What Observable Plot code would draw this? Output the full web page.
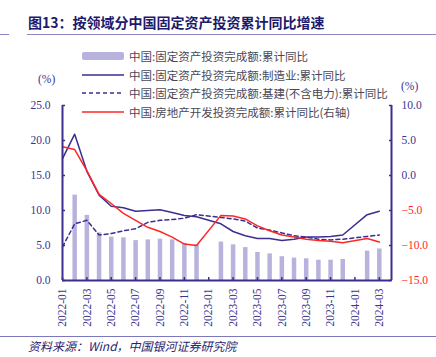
<!DOCTYPE html>
<html><head><meta charset="utf-8">
<script src="https://cdn.jsdelivr.net/npm/d3@7"></script>
<script src="https://cdn.jsdelivr.net/npm/@observablehq/plot@0.6"></script>
<style>
body{margin:0;width:436px;height:357px;position:relative;overflow:hidden;background:#fff;}
#chart{position:absolute;left:0;top:0;}
.abs{position:absolute;white-space:nowrap;}
#title{left:28px;top:12px;font:bold 14px "Noto Sans CJK SC";color:#1e1a6c;line-height:20px;}
.hline{position:absolute;height:1px;background:#8c87c4;}
#footer{left:28px;top:338px;font:italic 12px "Noto Sans CJK SC";color:#2a2670;line-height:16px;}
.unit{font:11.5px "Liberation Serif";color:#3b3490;}
.leg{position:absolute;left:82px;height:16px;width:360px;}
.leg .sw{position:absolute;left:0;top:0;width:42px;height:16px;}
.leg .tx{position:absolute;left:47px;top:0;font:11.5px "Noto Sans CJK SC";color:#4a4858;line-height:16px;white-space:nowrap;}
</style></head>
<body>
<div id="chart"></div>
<div class="abs" id="title">图13：按领域分中国固定资产投资累计同比增速</div>
<div class="hline" style="left:0;top:34px;width:9px;"></div>
<div class="hline" style="left:27px;top:34px;width:409px;"></div>
<div class="abs unit" style="left:38px;top:73px;">(%)</div>
<div class="abs unit" style="left:401px;top:80px;">(%)</div>
<div id="legend"></div>
<div class="hline" style="left:0;top:336px;width:436px;background:#7c78bc;"></div>
<div class="abs" id="footer">资料来源：Wind，中国银河证券研究院</div>
<script>
const months = ["2022-01","2022-02","2022-03","2022-04","2022-05","2022-06","2022-07","2022-08","2022-09","2022-10","2022-11","2022-12",
"2023-01","2023-02","2023-03","2023-04","2023-05","2023-06","2023-07","2023-08","2023-09","2023-10","2023-11","2023-12",
"2024-01","2024-02","2024-03"];
const fai        = [null,12.2,9.3,6.8,6.2,6.1,5.7,5.8,5.9,5.8,5.3,5.1, null,5.5,5.1,4.7,4.0,3.8,3.4,3.2,3.1,2.9,2.9,3.0, null,4.2,4.5];
const mfg        = [17.4,20.9,15.6,12.2,10.6,10.4,9.9,10.0,10.1,9.7,9.3,9.1, null,8.1,7.0,6.4,6.0,6.0,5.7,5.9,6.2,6.2,6.3,6.5, null,9.4,9.9];
const infra      = [4.8,8.1,8.6,6.5,6.7,7.1,7.4,8.3,8.6,8.7,8.9,9.4, null,9.0,8.8,8.5,7.5,7.2,6.8,6.4,6.2,5.9,5.8,5.9, null,6.3,6.5];
const realEstate = [4.1,3.7,0.7,-2.7,-4.0,-5.4,-6.4,-7.4,-8.0,-8.8,-9.8,-10.0, null,-5.7,-5.8,-6.2,-7.2,-7.9,-8.5,-8.8,-9.1,-9.3,-9.4,-9.6, null,-9.0,-9.5];
const leftTicks  = [0,5,10,15,20,25];
const rightTicks = [-15,-10,-5,0,5,10];
const seriesNames = ["中国:固定资产投资完成额:累计同比","中国:固定资产投资完成额:制造业:累计同比","中国:固定资产投资完成额:基建(不含电力):累计同比","中国:房地产开发投资完成额:累计同比(右轴)"];

const NAVY = "#3a2f8e", BAR = "#b8b3dc", RED = "#ff2626", TXT = "#3b3490";
const rows = months.map((m,i)=>({i, m, fai:fai[i], mfg:mfg[i], infra:infra[i], re:realEstate[i]}));
const toLeft = d3.scaleLinear().domain(d3.extent(rightTicks)).range(d3.extent(leftTicks));
const xDom = [0, months.length];
const xTicks = d3.range(0, months.length, 2);
const fmt = v => (v < 0 ? "−" : "") + Math.abs(v).toFixed(1);

const plot = Plot.plot({
  width: 436, height: 357,
  marginLeft: 62, marginRight: 45, marginTop: 105, marginBottom: 77,
  style: {fontFamily: "Liberation Serif", fontSize: "11.5px", color: TXT, background: "transparent"},
  x: {domain: xDom, axis: null},
  y: {domain: d3.extent(leftTicks), axis: null},
  marks: [
    Plot.ruleX(rows.filter(d=>d.fai!=null), {x:"i", y1:0, y2:"fai", stroke:BAR, strokeWidth:4.5}),
    Plot.line(rows.filter(d=>d.infra!=null), {x:"i", y:"infra", stroke:NAVY, strokeWidth:1.5, strokeDasharray:"4,3"}),
    Plot.line(rows.filter(d=>d.mfg!=null), {x:"i", y:"mfg", stroke:NAVY, strokeWidth:1.5}),
    Plot.line(rows.filter(d=>d.re!=null), {x:"i", y:d=>toLeft(d.re), stroke:RED, strokeWidth:1.5}),
    Plot.axisX({ticks: xTicks, tickFormat: i=>months[i], tickRotate:-90, tickSize:-3, tickPadding:11, label:null, stroke:NAVY, fill:TXT, strokeWidth:1.5}),
    Plot.axisY({anchor:"left", ticks: leftTicks, tickFormat: d=>d.toFixed(1), tickSize:-3, tickPadding:15, label:null, stroke:NAVY, fill:TXT, strokeWidth:1.5}),
    Plot.axisY(rightTicks.filter(v=>v>=0).map(toLeft), {anchor:"right", tickFormat: v=>fmt(toLeft.invert(v)), tickSize:-3, tickPadding:13, label:null, stroke:NAVY, fill:TXT, textAnchor:"start", strokeWidth:1.5}),
    Plot.axisY(rightTicks.filter(v=>v<0).map(toLeft), {anchor:"right", tickFormat: v=>fmt(toLeft.invert(v)), tickSize:-3, tickPadding:13, label:null, stroke:NAVY, fill:RED, textAnchor:"start", strokeWidth:1.5}),
    Plot.ruleY([0], {stroke:NAVY, strokeWidth:2}),
    Plot.ruleX(xDom, {stroke:NAVY, strokeWidth:2})
  ]
});
document.getElementById("chart").appendChild(plot);

// legend
const legend = document.getElementById("legend");
const swatches = [
  `<svg class="sw" width="42" height="16"><rect x="0" y="4" width="42" height="8" rx="2" fill="${BAR}"/></svg>`,
  `<svg class="sw" width="42" height="16"><line x1="0" x2="42" y1="8" y2="8" stroke="${NAVY}" stroke-width="1.5"/></svg>`,
  `<svg class="sw" width="42" height="16"><line x1="0" x2="42" y1="8" y2="8" stroke="${NAVY}" stroke-width="1.5" stroke-dasharray="4,3"/></svg>`,
  `<svg class="sw" width="42" height="16"><line x1="0" x2="42" y1="8" y2="8" stroke="${RED}" stroke-width="1.5"/></svg>`
];
seriesNames.forEach((name, k) => {
  const div = document.createElement("div");
  div.className = "leg";
  div.style.top = (48 + k*18.5) + "px";
  div.innerHTML = swatches[k] + `<span class="tx">${name}</span>`;
  legend.appendChild(div);
});
</script>
</body></html>
